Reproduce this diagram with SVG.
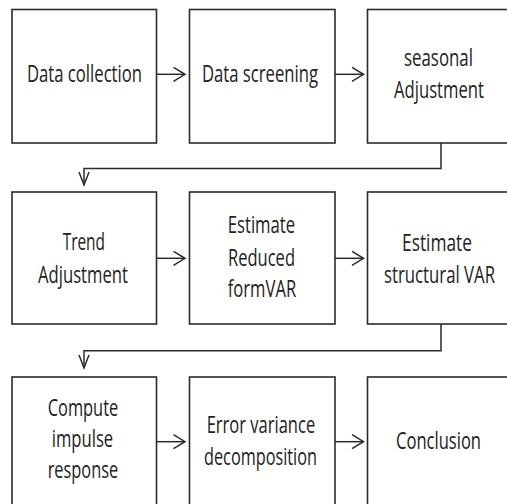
<svg xmlns="http://www.w3.org/2000/svg" width="507" height="504" viewBox="0 0 507 504">
  <style>
    .box { fill: #ffffff; stroke: #2b2b2b; stroke-width: 1.6; }
    .lbl { font-family: "Open Sans", "Noto Sans", "Liberation Sans", sans-serif; font-size: 23px; fill: #222222; }
    .wire { fill: none; stroke: #2b2b2b; stroke-width: 1.5; }
    .head { fill: none; stroke: #2b2b2b; stroke-width: 1.5; stroke-linejoin: miter; }
  </style>
  <rect width="507" height="504" fill="#ffffff"/>

  <!-- process steps -->
  <g id="n1">
    <rect class="box" x="12" y="9.5" width="144.5" height="133.5"/>
    <text class="lbl" x="27" y="82" textLength="115" lengthAdjust="spacingAndGlyphs">Data collection</text>
  </g>
  <g id="n2">
    <rect class="box" x="189.5" y="9.5" width="145.5" height="133.5"/>
    <text class="lbl" x="202" y="82" textLength="116" lengthAdjust="spacingAndGlyphs">Data screening</text>
  </g>
  <g id="n3">
    <rect class="box" x="367.5" y="9.5" width="146" height="133.5"/>
    <text class="lbl" x="404" y="66" textLength="69" lengthAdjust="spacingAndGlyphs">seasonal</text>
    <text class="lbl" x="394" y="97.5" textLength="90" lengthAdjust="spacingAndGlyphs">Adjustment</text>
  </g>
  <g id="n4">
    <rect class="box" x="12" y="192" width="144.5" height="132"/>
    <text class="lbl" x="62.7" y="250" textLength="42.3" lengthAdjust="spacingAndGlyphs">Trend</text>
    <text class="lbl" x="38" y="282.7" textLength="90" lengthAdjust="spacingAndGlyphs">Adjustment</text>
  </g>
  <g id="n5">
    <rect class="box" x="189.5" y="192" width="145.5" height="132"/>
    <text class="lbl" x="227.7" y="233.3" textLength="67.5" lengthAdjust="spacingAndGlyphs">Estimate</text>
    <text class="lbl" x="228" y="265.7" textLength="67" lengthAdjust="spacingAndGlyphs">Reduced</text>
    <text class="lbl" x="227.7" y="297" textLength="68.5" lengthAdjust="spacingAndGlyphs">formVAR</text>
  </g>
  <g id="n6">
    <rect class="box" x="367.5" y="192" width="146" height="132"/>
    <text class="lbl" x="402" y="250.7" textLength="70" lengthAdjust="spacingAndGlyphs">Estimate</text>
    <text class="lbl" x="384" y="282.7" textLength="111" lengthAdjust="spacingAndGlyphs">structural VAR</text>
  </g>
  <g id="n7">
    <rect class="box" x="12" y="377" width="144.5" height="133"/>
    <text class="lbl" x="47.7" y="416" textLength="70.5" lengthAdjust="spacingAndGlyphs">Compute</text>
    <text class="lbl" x="51.7" y="447" textLength="61.5" lengthAdjust="spacingAndGlyphs">impulse</text>
    <text class="lbl" x="47.7" y="478" textLength="70.5" lengthAdjust="spacingAndGlyphs">response</text>
  </g>
  <g id="n8">
    <rect class="box" x="189.5" y="377" width="145.5" height="133"/>
    <text class="lbl" x="206.7" y="433" textLength="108.5" lengthAdjust="spacingAndGlyphs">Error variance</text>
    <text class="lbl" x="204" y="465" textLength="113" lengthAdjust="spacingAndGlyphs">decomposition</text>
  </g>
  <g id="n9">
    <rect class="box" x="367.5" y="377" width="146" height="133"/>
    <text class="lbl" x="396" y="449" textLength="85" lengthAdjust="spacingAndGlyphs">Conclusion</text>
  </g>

  <!-- connectors -->
  <g id="connectors">
    <!-- row 1 -->
    <path class="wire" d="M156.5 74.3 H185"/>
    <path class="head" d="M173.5 67.3 L185 74.3 L173.5 81.3"/>
    <path class="wire" d="M335 74.3 H363.5"/>
    <path class="head" d="M352 67.3 L363.5 74.3 L352 81.3"/>
    <!-- row 1 to row 2 -->
    <path class="wire" d="M441 143 V168.5 H84 V185"/>
    <path class="head" d="M79 172 L84 185 L89 172"/>
    <!-- row 2 -->
    <path class="wire" d="M156.5 258.3 H185"/>
    <path class="head" d="M173.5 251.3 L185 258.3 L173.5 265.3"/>
    <path class="wire" d="M335 258.3 H363.5"/>
    <path class="head" d="M352 251.3 L363.5 258.3 L352 265.3"/>
    <!-- row 2 to row 3 -->
    <path class="wire" d="M441 324 V350.7 H84 V368"/>
    <path class="head" d="M79 355 L84 368 L89 355"/>
    <!-- row 3 -->
    <path class="wire" d="M156.5 441.7 H185"/>
    <path class="head" d="M173.5 434.7 L185 441.7 L173.5 448.7"/>
    <path class="wire" d="M335 441.7 H363.5"/>
    <path class="head" d="M352 434.7 L363.5 441.7 L352 448.7"/>
  </g>
</svg>
